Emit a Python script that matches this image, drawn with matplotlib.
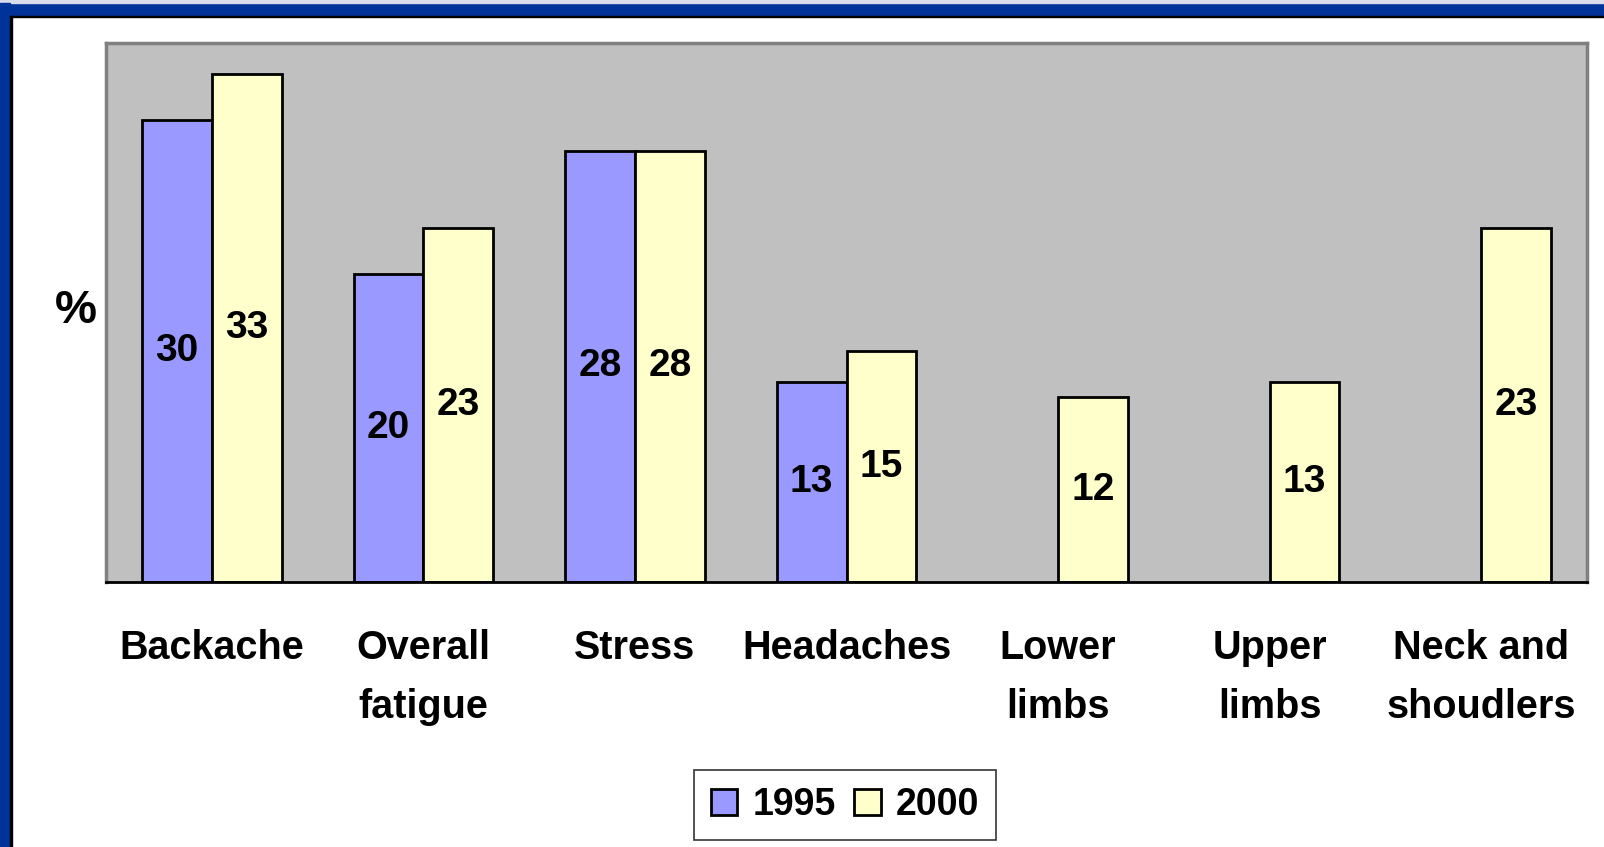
import matplotlib
matplotlib.use("Agg")
import matplotlib.pyplot as plt
import numpy as np
from matplotlib.patches import Rectangle

categories = ["Backache", "Overall\nfatigue", "Stress", "Headaches", "Lower\nlimbs", "Upper\nlimbs", "Neck and\nshoudlers"]
series_names = ["1995", "2000"]
values_1995 = [30, 20, 28, 13, np.nan, np.nan, np.nan]
values_2000 = [33, 23, 28, 15, 12, 13, 23]

plt.rcParams['font.family'] = ['Liberation Sans', 'DejaVu Sans']
plt.rcParams['font.weight'] = 'bold'

fig = plt.figure(figsize=(16.04, 8.47), dpi=100)
fig.patch.set_facecolor('white')

# slide frame
blue = '#003399'
fig.add_artist(Rectangle((0, 1 - 16/847), 1, 13/847, transform=fig.transFigure, color=blue, zorder=0))
fig.add_artist(Rectangle((0, 1 - 3/847), 1, 3/847, transform=fig.transFigure, color='#d8dcec', zorder=0))
fig.add_artist(Rectangle((0, 0), 10/1604, 1 - 3/847, transform=fig.transFigure, color=blue, zorder=0))
fig.add_artist(Rectangle((10/1604, 0), 1.5/1604, 1 - 16/847, transform=fig.transFigure, color='black', zorder=0))
fig.add_artist(Rectangle((10/1604, 1 - 17.5/847), 1 - 10/1604, 1.5/847, transform=fig.transFigure, color='black', zorder=0))

ax = fig.add_axes([106/1604, 1 - 582/847, (1587 - 106)/1604, (582 - 43)/847])
ax.set_facecolor('#C0C0C0')

x = np.arange(len(categories))
w = 0.33
b1 = ax.bar(x - w/2, values_1995, w, color='#9999FF', edgecolor='black', linewidth=2, label=series_names[0], zorder=2)
b2 = ax.bar(x + w/2, values_2000, w, color='#FFFFCC', edgecolor='black', linewidth=2, label=series_names[1], zorder=2)

for xi, v in zip(x - w/2, values_1995):
    if not np.isnan(v):
        ax.text(xi, v / 2, f"{v:g}", ha='center', va='center', fontsize=28, fontweight='bold', zorder=3)
for xi, v in zip(x + w/2, values_2000):
    if not np.isnan(v):
        ax.text(xi, v / 2, f"{v:g}", ha='center', va='center', fontsize=28, fontweight='bold', zorder=3)

ax.set_xlim(-0.5, len(categories) - 0.5)
ax.set_ylim(0, 35)
ax.set_yticks([])
ax.set_xticks(x)
ax.set_xticklabels(categories, fontsize=28.5, fontweight='bold', linespacing=1.68)
ax.tick_params(axis='x', length=0, pad=34)

for s in ['top', 'left', 'right']:
    ax.spines[s].set_color('#808080')
    ax.spines[s].set_linewidth(2.5)
ax.spines['bottom'].set_color('black')
ax.spines['bottom'].set_linewidth(2)

fig.text(76/1604, 1 - 311/847, "%", ha='center', va='center', fontsize=34, fontweight='bold')

leg = fig.legend(handles=[b1, b2], labels=series_names, loc='center', bbox_to_anchor=(845/1604, 1 - 805/847),
                 ncol=2, frameon=True, fancybox=False, edgecolor='black',
                 handlelength=0.7, handleheight=0.7, handletextpad=0.4, columnspacing=0.5, borderpad=0.45,
                 prop={'weight': 'bold', 'size': 27})
leg.get_frame().set_linewidth(1.2)

fig.savefig("out.png", dpi=100)
